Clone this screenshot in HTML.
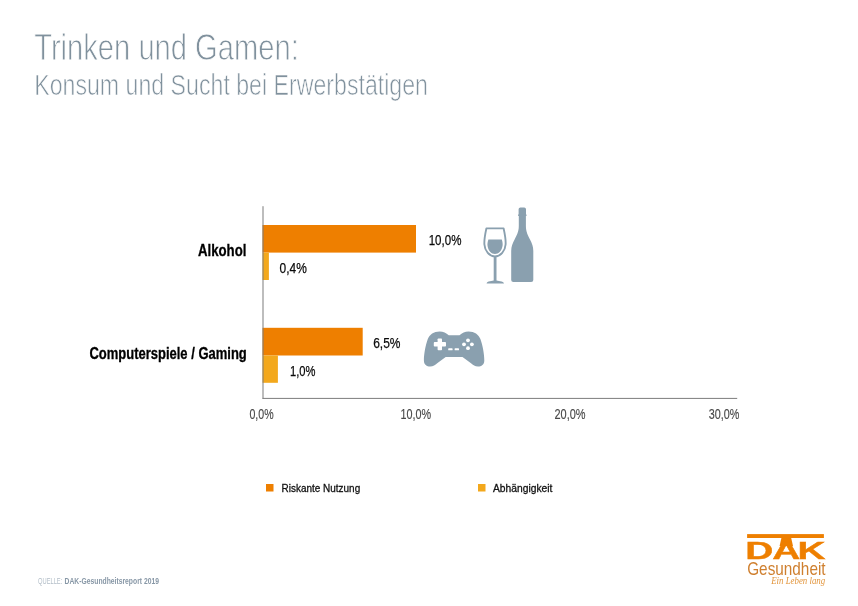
<!DOCTYPE html>
<html lang="de">
<head>
<meta charset="utf-8">
<title>Trinken und Gamen: Konsum und Sucht bei Erwerbstätigen</title>
<style>
html,body{margin:0;padding:0;background:#fff;}
body{width:858px;height:606px;overflow:hidden;font-family:"Liberation Sans",sans-serif;}
svg{display:block;}
text{font-family:"Liberation Sans",sans-serif;}
.b{font-weight:bold;}
</style>
</head>
<body>
<svg width="858" height="606" viewBox="0 0 858 606">
<rect width="858" height="606" fill="#ffffff"/>

<!-- Title -->
<text x="34.2" y="60.4" font-size="37" fill="#80919d" stroke="#fff" stroke-width="0.9" textLength="264.6" lengthAdjust="spacingAndGlyphs">Trinken und Gamen:</text>
<text x="34.2" y="94.5" font-size="29.6" fill="#80919d" stroke="#fff" stroke-width="0.7" textLength="393.8" lengthAdjust="spacingAndGlyphs">Konsum und Sucht bei Erwerbstätigen</text>

<!-- Bars -->
<rect x="262.5" y="225" width="153.5" height="27.6" fill="#ee7f00"/>
<rect x="262.5" y="252.6" width="6.4" height="27.4" fill="#f3a81c"/>
<rect x="262.5" y="327.8" width="100.2" height="27.7" fill="#ee7f00"/>
<rect x="262.5" y="355.5" width="15.4" height="27.3" fill="#f3a81c"/>

<!-- Axes -->
<rect x="262.5" y="206.2" width="1" height="192.6" fill="#7d7d7d"/>
<rect x="262.5" y="397.9" width="474.7" height="1" fill="#7d7d7d"/>

<!-- Category labels -->
<text class="b" x="198" y="255.8" font-size="15.8" fill="#000" stroke="#000" stroke-width="0.3" textLength="48.4" lengthAdjust="spacingAndGlyphs">Alkohol</text>
<text class="b" x="89.4" y="359.2" font-size="15.8" fill="#000" stroke="#000" stroke-width="0.3" textLength="157.4" lengthAdjust="spacingAndGlyphs">Computerspiele / Gaming</text>

<!-- Value labels -->
<text x="428.7" y="244.6" font-size="14.3" fill="#0a0a0a" stroke="#0a0a0a" stroke-width="0.25" textLength="32.7" lengthAdjust="spacingAndGlyphs">10,0%</text>
<text x="279.6" y="272.6" font-size="14.3" fill="#0a0a0a" stroke="#0a0a0a" stroke-width="0.25" textLength="27.2" lengthAdjust="spacingAndGlyphs">0,4%</text>
<text x="373.2" y="347.8" font-size="14.3" fill="#0a0a0a" stroke="#0a0a0a" stroke-width="0.25" textLength="27.3" lengthAdjust="spacingAndGlyphs">6,5%</text>
<text x="290" y="375.5" font-size="14.3" fill="#0a0a0a" stroke="#0a0a0a" stroke-width="0.25" textLength="25.5" lengthAdjust="spacingAndGlyphs">1,0%</text>

<!-- Axis labels -->
<text x="249.4" y="418.6" font-size="13.9" fill="#4a4a4a" stroke="#4a4a4a" stroke-width="0.15" textLength="24.2" lengthAdjust="spacingAndGlyphs">0,0%</text>
<text x="400.5" y="418.6" font-size="13.9" fill="#4a4a4a" stroke="#4a4a4a" stroke-width="0.15" textLength="30.6" lengthAdjust="spacingAndGlyphs">10,0%</text>
<text x="554.5" y="418.6" font-size="13.9" fill="#4a4a4a" stroke="#4a4a4a" stroke-width="0.15" textLength="31" lengthAdjust="spacingAndGlyphs">20,0%</text>
<text x="708.7" y="418.6" font-size="13.9" fill="#4a4a4a" stroke="#4a4a4a" stroke-width="0.15" textLength="30.6" lengthAdjust="spacingAndGlyphs">30,0%</text>

<!-- Legend -->
<rect x="266" y="484" width="7.5" height="7.5" fill="#ee7f00"/>
<text x="281.6" y="491.7" font-size="10.8" fill="#111" stroke="#111" stroke-width="0.3" textLength="78.6" lengthAdjust="spacingAndGlyphs">Riskante Nutzung</text>
<rect x="478" y="484" width="7.5" height="7.5" fill="#f3a81c"/>
<text x="493" y="491.7" font-size="10.8" fill="#111" stroke="#111" stroke-width="0.3" textLength="59.4" lengthAdjust="spacingAndGlyphs">Abhängigkeit</text>

<!-- Wine glass -->
<g fill="none" stroke="#8aa0af" stroke-width="1.9" stroke-linejoin="round" stroke-linecap="round">
<path d="M486.4 228.4 H503.6 C504.6 233 506 239 505.6 244.5 C505.2 251 500.5 256.4 495 256.4 C489.5 256.4 484.8 251 484.4 244.5 C484 239 485.4 233 486.4 228.4 Z"/>
</g>
<path fill="#8aa0af" d="M488.4 239.4 H501.8 C502.6 242 502.8 244 502.6 245.5 C502 250.5 498.6 254 495 254 C491.4 254 488 250.5 487.5 245.5 C487.3 244 487.6 242 488.4 239.4 Z"/>
<rect x="493.7" y="256.5" width="2.8" height="25" fill="#8aa0af"/>
<path fill="#8aa0af" d="M486.6 283.6 C486.6 282.2 488 281.4 490 281.2 L493.7 280.6 H496.5 L500.2 281.2 C502.2 281.4 504 282.2 504 283.6 Z"/>

<!-- Bottle -->
<path fill="#8aa0af" d="M518.6 209.2 Q518.6 207.4 520.4 207.4 H524.2 Q526 207.4 526 209.2 V214.2 Q526.7 214.6 526.7 215.2 Q526.7 215.8 525.9 216 V226 C525.9 232 528 235.5 530 239.5 C532 243.5 533.3 246.5 533.3 251 V280 Q533.3 282.1 531.2 282.1 H513.4 Q511.2 282.1 511.2 280 V251 C511.2 246.5 512.6 243.5 514.6 239.5 C516.6 235.5 518.8 232 518.8 226 V216 Q517.9 215.8 517.9 215.2 Q517.9 214.6 518.6 214.2 Z"/>

<!-- Gamepad -->
<path fill="#8aa0af" d="M448.7 335.3 H459.5 C462 333 465 331.4 468.5 331.4 C474.5 331.4 478.6 334.5 480.4 339 C482.6 345 484.3 354 484.3 360.5 C484.3 364.5 481.5 366.5 478 366.5 C475 366.5 473 365 471 363.2 L462.5 357.1 H445.7 L437.2 363.2 C435.2 365 433.2 366.5 430.2 366.5 C426.7 366.5 423.9 364.5 423.9 360.5 C423.9 354 425.6 345 427.8 339 C429.6 334.5 433.7 331.4 439.7 331.4 C443.2 331.4 446.2 333 448.7 335.3 Z"/>
<g fill="#ffffff">
<rect x="437.6" y="338.4" width="4.4" height="11.8" rx="0.8"/>
<rect x="433.8" y="342.1" width="12.2" height="4.4" rx="0.8"/>
<rect x="448.2" y="348.3" width="4.4" height="2" rx="0.6"/>
<rect x="454.6" y="348.3" width="4.4" height="2" rx="0.6"/>
<circle cx="468" cy="340.3" r="1.9"/>
<circle cx="464" cy="344.3" r="1.9"/>
<circle cx="471.9" cy="344.3" r="1.9"/>
<circle cx="468" cy="348.2" r="1.9"/>
</g>

<!-- Footer -->
<text x="38" y="584.2" font-size="8.2" fill="#b3bec8" textLength="24.3" lengthAdjust="spacingAndGlyphs">QUELLE:</text>
<text class="b" x="64.5" y="584.2" font-size="8.2" fill="#8797a6" textLength="94.5" lengthAdjust="spacingAndGlyphs">DAK-Gesundheitsreport 2019</text>

<!-- Logo -->
<rect x="747.1" y="534.1" width="76.8" height="3.9" fill="#ee7f00"/>
<polygon points="781.5,537.5 791.1,537.5 793,546 779.6,546" fill="#ee7f00"/>
<text class="b" x="460.03 476.7 492.3" transform="translate(0,558.55) scale(1.62,1)" font-size="24" fill="#ee7f00" stroke="#ee7f00" stroke-width="0.5" vector-effect="non-scaling-stroke">DAK</text>
<text x="747.2" y="574.7" font-size="19" fill="#cf7f2e" textLength="78.4" lengthAdjust="spacingAndGlyphs">Gesundheit</text>
<text x="771.2" y="584.2" font-size="9.4" font-style="italic" fill="#e2953c" textLength="54" lengthAdjust="spacingAndGlyphs" style="font-family:'Liberation Serif',serif">Ein Leben lang</text>
</svg>
</body>
</html>
